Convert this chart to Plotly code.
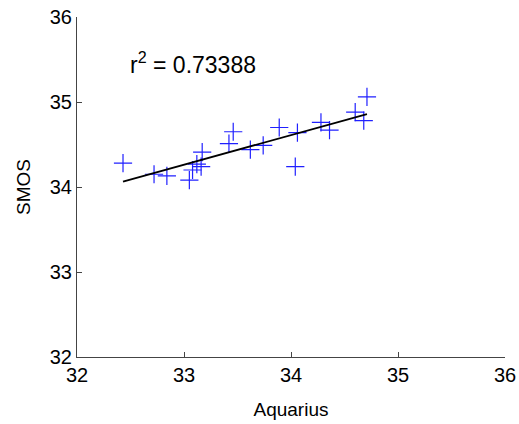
import numpy as np
import plotly.graph_objects as go

aquarius = [32.43, 32.72, 32.84, 33.05, 33.08, 33.12, 33.16, 33.17, 33.42, 33.46,
            33.62, 33.74, 33.89, 34.04, 34.06, 34.28, 34.36, 34.60, 34.68, 34.71]
smos = [34.28, 34.15, 34.13, 34.08, 34.20, 34.27, 34.24, 34.41, 34.51, 34.65,
        34.44, 34.49, 34.70, 34.24, 34.64, 34.76, 34.67, 34.88, 34.78, 35.06]
tick_vals = [32, 33, 34, 35, 36]
r2_label = "r<sup>2</sup> = 0.73388"

slope, intercept = np.polyfit(aquarius, smos, 1)
fit_x = [min(aquarius), max(aquarius)]
fit_y = [slope * v + intercept for v in fit_x]

font = "Liberation Sans, Arial, sans-serif"

fig = go.Figure()
fig.add_trace(go.Scatter(x=aquarius, y=smos, mode="markers",
                         marker=dict(symbol="cross-thin", size=13,
                                     line=dict(color="#2020ff", width=1.2)),
                         showlegend=False))
fig.add_trace(go.Scatter(x=fit_x, y=fit_y, mode="lines",
                         line=dict(color="black", width=1.8), showlegend=False))

fig.add_annotation(x=32.48, y=35.46, xref="x", yref="y", text=r2_label,
                   showarrow=False, xanchor="left", yanchor="middle",
                   font=dict(family=font, size=23, color="black"))

axis_common = dict(range=[32, 36], tickvals=tick_vals, ticks="inside", ticklen=5,
                   tickcolor="#444", showline=True, linecolor="#444", linewidth=1,
                   showgrid=False, zeroline=False, mirror=False, automargin=False,
                   tickfont=dict(family=font, size=20, color="black"))

fig.update_xaxes(title=dict(text="Aquarius", font=dict(family=font, size=19, color="black"),
                            standoff=17), **axis_common)
fig.update_yaxes(title=dict(text="SMOS", font=dict(family=font, size=19, color="black"),
                            standoff=14), **axis_common)

fig.update_layout(width=519, height=424, margin=dict(l=77, r=14, t=17, b=67),
                  plot_bgcolor="white", paper_bgcolor="white")

fig.write_html("out.html", config={"displayModeBar": False},
               post_script="document.body.style.margin='0';document.body.style.overflow='hidden';")
